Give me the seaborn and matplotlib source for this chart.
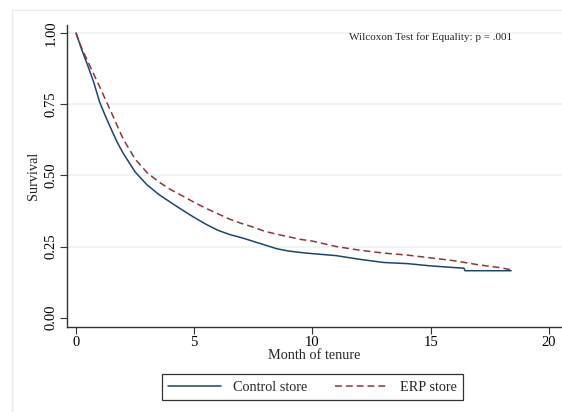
import numpy as np
import pandas as pd
import matplotlib
matplotlib.use("Agg")
import matplotlib.pyplot as plt
from matplotlib.patches import Rectangle
from matplotlib.lines import Line2D
import seaborn as sns

# --- data ---
control_t = [0, 0.25, 0.5, 0.75, 1.0, 1.25, 1.5, 1.75, 2.0, 2.5, 3.0, 3.5, 4.0, 4.5,
             5.0, 5.5, 6.0, 6.5, 7.0, 7.5, 8.0, 8.5, 9.0, 9.5, 10, 11, 12, 13, 14,
             15, 16, 16.4, 16.45, 18.4]
control_s = [1.0, 0.94, 0.885, 0.827, 0.757, 0.707, 0.66, 0.615, 0.577, 0.512, 0.467,
             0.433, 0.405, 0.378, 0.352, 0.328, 0.307, 0.292, 0.281, 0.268, 0.255, 0.242,
             0.234, 0.229, 0.225, 0.218, 0.205, 0.194, 0.19, 0.182, 0.176, 0.174,
             0.165, 0.165]
erp_t = [0, 0.25, 0.5, 0.75, 1.0, 1.25, 1.5, 1.75, 2.0, 2.5, 3.0, 3.5, 4.0, 4.5, 5.0,
         5.5, 6.0, 6.5, 7.0, 7.5, 8.0, 8.5, 9.0, 9.5, 10, 11, 12, 13, 14, 15, 16, 17,
         18, 18.4]
erp_s = [1.0, 0.945, 0.90, 0.855, 0.812, 0.765, 0.72, 0.673, 0.627, 0.557, 0.51, 0.477,
         0.45, 0.428, 0.405, 0.384, 0.365, 0.346, 0.331, 0.318, 0.303, 0.293, 0.284,
         0.275, 0.269, 0.25, 0.237, 0.227, 0.22, 0.21, 0.2, 0.186, 0.175, 0.168]
groups = ["Control store", "ERP store"]
x_ticks = [0, 5, 10, 15, 20]
y_ticks = [0.0, 0.25, 0.5, 0.75, 1.0]
y_tick_labels = ["0.00", "0.25", "0.50", "0.75", "1.00"]
annotation = "Wilcoxon Test for Equality: p = .001"

df = pd.concat([
    pd.DataFrame({"t": control_t, "s": control_s, "g": groups[0]}),
    pd.DataFrame({"t": erp_t, "s": erp_s, "g": groups[1]}),
])

sns.set_style("white")
plt.rcParams["font.family"] = ["Liberation Serif", "DejaVu Serif"]

W, H = 562, 412
fig = plt.figure(figsize=(W / 100, H / 100), dpi=100)
fig.patch.set_facecolor("white")

# outer graph-region frame
fig.add_artist(Rectangle((12 / W, -0.1), 1.2, 1 - 10 / H + 0.1, transform=fig.transFigure,
                         fill=False, edgecolor="#e6eeef", linewidth=1.0))

ax = fig.add_axes([67 / W, 1 - 326.7 / H, (W - 67) / W, (326.7 - 25) / H])
ax.set_facecolor("none")

palette = {groups[0]: "#1a476f", groups[1]: "#90353b"}
dashes = {groups[0]: "", groups[1]: (4.5, 2.6)}
sns.lineplot(data=df, x="t", y="s", hue="g", style="g", palette=palette, dashes=dashes,
             linewidth=1.1, ax=ax, legend=False, estimator=None, sort=False)

ax.set_xlim(-0.38, 20.55)
ax.set_ylim(-0.0316, 1.028)
ax.set_xticks(x_ticks)
ax.set_yticks(y_ticks)
ax.set_yticklabels(y_tick_labels, rotation=90, va="center")
for y in y_ticks[1:]:
    ax.axhline(y, color="#eaf2f3", lw=1.2, zorder=0)
for s in ["top", "right"]:
    ax.spines[s].set_visible(False)
for s in ["left", "bottom"]:
    ax.spines[s].set_color("#333333")
    ax.spines[s].set_linewidth(1.0)
ax.tick_params(axis="both", direction="out", length=5, width=0.8, color="#333333",
               labelsize=10.5, labelcolor="black", pad=2, left=True, bottom=True)
ax.set_xlabel("Month of tenure", fontsize=10.3, labelpad=0)
ax.set_ylabel("Survival", fontsize=10.3, labelpad=3)

ax.text(15, 0.985, annotation, fontsize=8, ha="center", va="center")

handles = [Line2D([], [], color=palette[groups[0]], lw=1.1),
           Line2D([], [], color=palette[groups[1]], lw=1.1, dashes=(4.5, 2.6))]
leg = fig.legend(handles, groups, loc="center", bbox_to_anchor=(312.5 / W, 1 - 387 / H),
                 ncol=2, fontsize=10.3, frameon=True, fancybox=False, handlelength=3.7,
                 columnspacing=2.0, handletextpad=0.8, borderpad=0.45)
leg.get_frame().set_edgecolor("black")
leg.get_frame().set_linewidth(0.9)

fig.savefig("out.png", dpi=100)
